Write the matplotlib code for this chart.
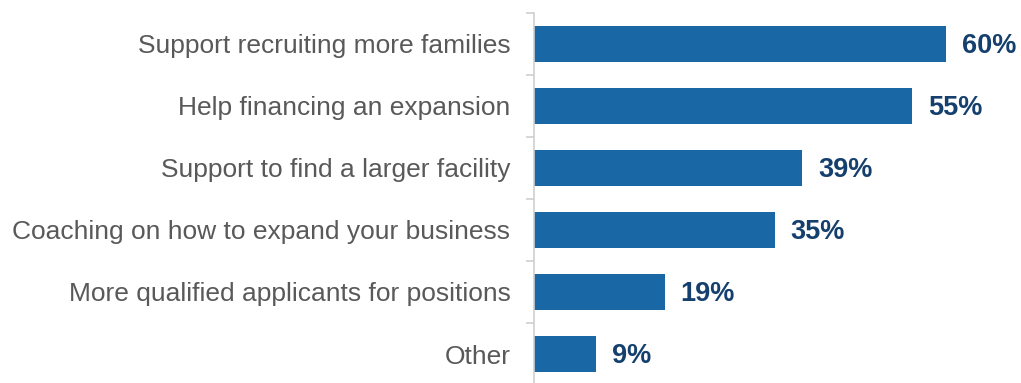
import matplotlib.pyplot as plt
import numpy as np

categories = [
    "Support recruiting more families",
    "Help financing an expansion",
    "Support to find a larger facility",
    "Coaching on how to expand your business",
    "More qualified applicants for positions",
    "Other",
]
values = [60, 55, 39, 35, 19, 9]
value_labels = [f"{v}%" for v in values]

plt.rcParams['font.family'] = ['Liberation Sans', 'DejaVu Sans']

fig = plt.figure(figsize=(10.21, 3.83), dpi=100)
ax = fig.add_axes([534 / 1021, -2 / 383, 481 / 1021, 372 / 383])

y = np.arange(len(categories))[::-1]
ax.barh(y, values, height=0.58, color="#1a67a5", edgecolor="none")

ax.set_xlim(0, 70)
ax.set_ylim(-0.5, len(categories) - 0.5)

for yi, v, lab in zip(y, values, value_labels):
    ax.annotate(lab, xy=(v, yi), xytext=(11.5, -1.5), textcoords="offset points",
                va="center", ha="left", fontsize=19.5, fontweight="bold",
                color="#15406e")

ax.set_yticks(y)
ax.set_yticklabels(categories, fontsize=19, color="#595959")
ax.tick_params(axis="y", which="major", length=0, pad=17)
ax.set_yticks(np.arange(-0.5, len(categories), 1.0), minor=True)
ax.tick_params(axis="y", which="minor", length=6, width=1.2, color="#d0d0d0")

ax.set_xticks([])
for side in ["top", "right", "bottom"]:
    ax.spines[side].set_visible(False)
ax.spines["left"].set_color("#d0d0d0")
ax.spines["left"].set_linewidth(1.2)

fig.savefig("out.png", dpi=100)
